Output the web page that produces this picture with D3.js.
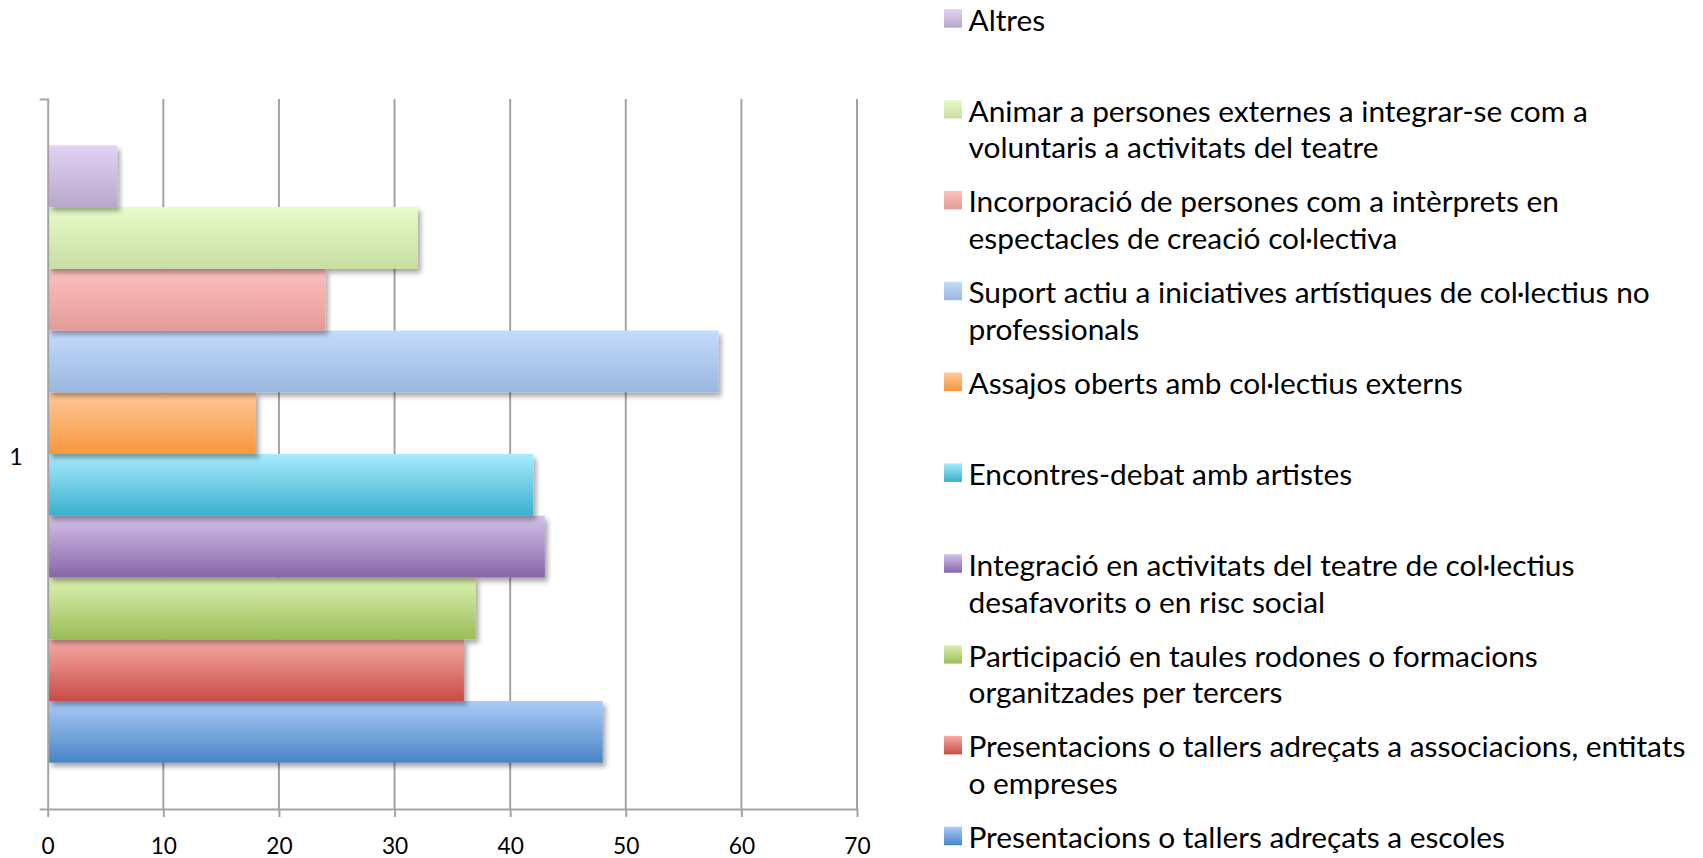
<!DOCTYPE html>
<html>
<head>
<meta charset="utf-8">
<script src="https://cdn.jsdelivr.net/npm/d3@7"></script>
<style>
  body { margin: 0; background: #fff; }
  svg { display: block; }
  text { font-family: Lato, "Open Sans", sans-serif; fill: #000; }
</style>
</head>
<body>
<div id="container"></div>
<script>
/* DATA (series 1 = bottom bar, last series = top bar) */
const categories = ["1"];
const seriesNames = [
  "Presentacions o tallers adreçats a escoles",
  "Presentacions o tallers adreçats a associacions, entitats\no empreses",
  "Participació en taules rodones o formacions\norganitzades per tercers",
  "Integració en activitats del teatre de col·lectius\ndesafavorits o en risc social",
  "Encontres-debat amb artistes",
  "Assajos oberts amb col·lectius externs",
  "Suport actiu a iniciatives artístiques de col·lectius no\nprofessionals",
  "Incorporació de persones com a intèrprets en\nespectacles de creació col·lectiva",
  "Animar a persones externes a integrar-se com a\nvoluntaris a activitats del teatre",
  "Altres"
];
const seriesValues = [48, 36, 37, 43, 42, 18, 58, 24, 32, 6];
const xTicks = [0, 10, 20, 30, 40, 50, 60, 70];

/* gradient palette, top -> bottom of each bar */
const topColors    = ["#aacbf8", "#f8aca8", "#ddf2b2", "#d4c2e8", "#a8ebfd", "#fec99a", "#c3dbfc", "#fcc1be", "#e6fbc7", "#e1d2f3"];
const bottomColors = ["#4885c6", "#c84b45", "#9bbd58", "#8765a8", "#3bafcd", "#f7963f", "#9ab7e0", "#e49b97", "#c9dea2", "#b8a7cc"];

/* LAYOUT */
const width = 1703, height = 858;
const plot = { left: 47.7, right: 857, top: 99, bottom: 809 };

const svg = d3.select("#container").append("svg")
  .attr("width", width)
  .attr("height", height);

const defs = svg.append("defs");
seriesValues.forEach((v, i) => {
  const g = defs.append("linearGradient")
    .attr("id", "grad" + i)
    .attr("x1", 0).attr("y1", 0).attr("x2", 0).attr("y2", 1);
  g.append("stop").attr("offset", "0%").attr("stop-color", topColors[i]);
  g.append("stop").attr("offset", "100%").attr("stop-color", bottomColors[i]);
});
defs.append("filter")
  .attr("id", "shadow")
  .attr("x", "-5%").attr("y", "-20%").attr("width", "115%").attr("height", "160%")
  .append("feDropShadow")
  .attr("dx", 3).attr("dy", 4).attr("stdDeviation", 2.5)
  .attr("flood-color", "#000").attr("flood-opacity", 0.35);

/* SCALES */
const xScale = d3.scaleLinear()
  .domain([0, 70])
  .range([plot.left, plot.right]);

const catScale = d3.scaleBand()
  .domain(categories)
  .range([plot.top, plot.bottom]);

const seriesIdx = d3.range(seriesValues.length).reverse(); // top bar first
const yScale = d3.scaleBand()
  .domain(seriesIdx)
  .range([plot.top, plot.bottom])
  .paddingInner(0)
  .paddingOuter(0.75);

/* GRIDLINES */
svg.append("g")
  .selectAll("line")
  .data(xTicks.slice(1))
  .join("line")
  .attr("x1", d => xScale(d)).attr("x2", d => xScale(d))
  .attr("y1", plot.top).attr("y2", plot.bottom)
  .attr("stroke", "#a3a3a3")
  .attr("stroke-width", 2);

/* BARS */
svg.append("g")
  .selectAll("rect")
  .data(seriesValues.map((v, i) => ({ i, v })))
  .join("rect")
  .attr("x", xScale(0) + 0.8)
  .attr("y", d => yScale(d.i))
  .attr("width", d => xScale(d.v) - xScale(0) - 0.8)
  .attr("height", yScale.bandwidth())
  .attr("fill", d => `url(#grad${d.i})`)
  .attr("filter", "url(#shadow)");

/* AXES */
const xAxisGroup = svg.append("g")
  .attr("transform", `translate(0, ${plot.bottom})`)
  .call(d3.axisBottom(xScale).tickValues(xTicks).tickSizeInner(8).tickSizeOuter(0).tickPadding(21));

const yAxisGroup = svg.append("g")
  .attr("transform", `translate(${plot.left}, 0)`)
  .call(d3.axisLeft(catScale).tickSizeInner(0).tickSizeOuter(8).tickPadding(25));

[xAxisGroup, yAxisGroup].forEach(g => {
  g.select(".domain").attr("stroke", "#a3a3a3").attr("stroke-width", 2);
  g.selectAll(".tick line").attr("stroke", "#a3a3a3").attr("stroke-width", 2);
  g.selectAll("text")
    .style("font-family", "Lato, 'Open Sans', sans-serif")
    .style("font-size", "22.7px")
    .attr("fill", "#000");
});
yAxisGroup.selectAll("text").attr("dy", "0.48em");

/* LEGEND */
const legendX = 944, legendTextX = 968.5;
const legendTop = 30.7, legendStep = 90.84, lineStep = 36.9;
const legendOrder = d3.range(seriesValues.length).reverse();

const legend = svg.append("g");
const items = legend.selectAll("g")
  .data(legendOrder)
  .join("g")
  .attr("transform", (d, k) => `translate(0, ${legendTop + k * legendStep})`);

items.append("rect")
  .attr("x", legendX)
  .attr("y", -21.5)
  .attr("width", 18)
  .attr("height", 18.5)
  .attr("fill", d => `url(#grad${d})`);

const labels = items.append("text")
  .attr("x", legendTextX)
  .style("font-size", "28.6px");

labels.selectAll("tspan")
  .data(d => seriesNames[d].split("\n"))
  .join("tspan")
  .attr("x", legendTextX)
  .attr("y", (d, j) => j * lineStep)
  .text(d => d);

/* squeeze legend text horizontally to match the original narrow face */
let longest = 0;
labels.selectAll("tspan").each(function () {
  longest = Math.max(longest, this.getComputedTextLength());
});
const sx = 717 / longest;
labels.attr("transform", `translate(${legendTextX * (1 - sx)}, 0) scale(${sx}, 1)`);
</script>
</body>
</html>
